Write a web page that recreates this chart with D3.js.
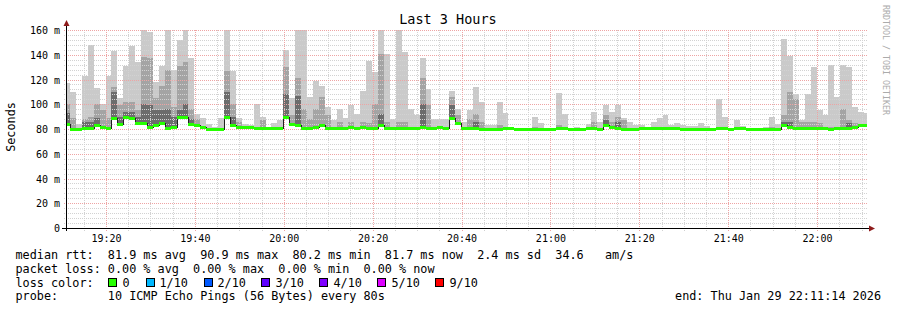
<!DOCTYPE html>
<html><head><meta charset="utf-8">
<script src="https://cdn.jsdelivr.net/npm/d3@7"></script>
<style>
body{margin:0;background:#fff}
svg{display:block}
text{font-family:"DejaVu Sans Mono",monospace;white-space:pre}
</style>
</head><body><svg id="c" width="897" height="310"></svg>
<script>
// ---------- data ----------
const chartTitle = "Last 3 Hours";
const yAxisTitle = "Seconds";
const watermark = "RRDTOOL / TOBI OETIKER";
const stepSeconds = 80;
const firstBarStart = new Date(2026, 0, 29, 19, 10, 34);
const viewStart = new Date(2026, 0, 29, 19, 11, 14);
const viewEnd = new Date(2026, 0, 29, 22, 11, 14);

// outer smoke (max ping), ms
const smokeMax = [117,110,84,123,148,113,100,122.5,143,105,131,147,134,160,158,118,131,160,128,152,
160,137,92,89,84,82,89,160,127,89,84,83,100,90,82,85,87,144,105,160,
160,106,119,115,98,87,96,89,99,92,111,135,126,160,141,88,160,142,96,91,
137,112,88,88,88,111,96,86,95,114,102,83,83,102,93,82,81,81,81,90,
85,81,81,109,92,81,82,81,84,94,86,99,94,99,89,86,83,83,82,85.5,
89,91,83,84.5,83.5,82.8,82.8,84.5,82.8,81,104,90,81,87.6,82.8,81,81,81,82,89.5,
84,152.7,139,108,87,108,130,95,91,131.5,106,132,130,98,93.6,93];
// inner smoke (2nd highest ping), ms; 0 = none
const smokeMid = [100,89,0,88,90,100,95,89,114,99,102,102,95,138,137,105,115,128,98,131,
134,96,88,0,0,0,0,127,100,86,0,0,0,87,0,0,0,130,91,121,
96,88,96,106,91,0,86,0,86,0,86,85,100,141,86,0,86,86,0,0,
121,99,0,0,0,106,91,0,88,92,86,0,0,83,0,0,0,0,0,82,
0,0,0,83,0,0,0,0,82,86,0,91,86,90,87,0,0,0,0,0,
0,0,0,0,0,0,0,0,0,0,0,0,0,0,0,0,0,0,0,82,
0,91.7,110,104.4,86,86,86,85,0,82,0,96,87.6,85,84,84];
// core smoke (3rd highest ping), ms; 0 = none
const smokeCore = [93,0,0,86,86,89,0,0,110,90,94,94,90,100,99,95,95,96,90,95,
100,88,0,0,0,0,0,110,90,0,0,0,0,0,0,0,0,108,0,107,
0,0,0,0,0,0,0,0,0,0,0,0,0,92,0,0,0,0,0,0,
100,0,0,0,0,99,0,0,0,86,0,0,0,0,0,0,0,0,0,0,
0,0,0,0,0,0,0,0,0,0,0,87,0,86,0,0,0,0,0,0,
0,0,0,0,0,0,0,0,0,0,0,0,0,0,0,0,0,0,0,0,
0,86,86,0,0,0,0,0,0,0,0,0,85,0,0,0];
// median rtt, ms
const medianRtt = [84,80,80,81,81,83.5,81.5,81,89,84,90,89,85,85,82,83,85,81,82,90,
90,84,83,82,80,80,80,90,83,82,82,82,81,81,81,81,81,90,84,83,
81,81,82,83,81,81,81,81,82,81,82,81,81,83,81,81,81,81,81,81,
82,81,81,82,81,89,85,81,81,81,80,80,80,80,81,81,80,80,80,80,
80,80,80,81,81,80,80,80,81,81,80,83,82,81,80,80,80,81,81,81,
81,81,81,81,80,80,80,80,80,80,81,81,80,81,81,80,80,80,80,80,
80,83,82,81,81,81,81,81,81,80,81,81,81,82,83,83];

const yTickValues = [0,20,40,60,80,100,120,140,160];
const yTickLabels = ["0","20 m","40 m","60 m","80 m","100 m","120 m","140 m","160 m"];

const legendLines = [
  "median rtt:  81.9 ms avg  90.9 ms max  80.2 ms min  81.7 ms now  2.4 ms sd  34.6   am/s",
  "packet loss: 0.00 % avg  0.00 % max  0.00 % min  0.00 % now",
  "loss color:",
  "probe:       10 ICMP Echo Pings (56 Bytes) every 80s"
];
const lossLabels = ["0","1/10","2/10","3/10","4/10","5/10","9/10"];
const lossColors = ["#26ff00","#00b8ff","#0059ff","#5e00ff","#7e00ff","#dd00ff","#ff0000"];
const endLabel = "end: Thu Jan 29 22:11:14 2026";

// ---------- layout ----------
const L = 67, R = 867, T = 30, B = 228;
const svg = d3.select("#c");
const x = d3.scaleTime().domain([viewStart, viewEnd]).range([L, R]);
const y = d3.scaleLinear().domain([0, 160]).range([B, T]);

svg.append("defs").append("clipPath").attr("id","plot")
  .append("rect").attr("x",L).attr("y",T).attr("width",R-L).attr("height",B-T);

const bars = medianRtt.map((m,i)=>{
  const t0 = new Date(firstBarStart.getTime() + i*stepSeconds*1000);
  const t1 = new Date(t0.getTime() + stepSeconds*1000);
  return {t0,t1,m,max:smokeMax[i],mid:smokeMid[i],core:smokeCore[i]};
});

const g = svg.append("g").attr("clip-path","url(#plot)");
function band(key, fill, lowOff){
  g.selectAll(null).data(bars.filter(d=>d[key]>0)).enter().append("rect")
    .attr("x",d=>x(d.t0)).attr("width",d=>x(d.t1)-x(d.t0))
    .attr("y",d=>y(Math.min(d[key],162)))
    .attr("height",d=>Math.max(0,y(d.m-lowOff)-y(Math.min(d[key],162))))
    .attr("fill",fill).attr("shape-rendering","crispEdges");
}
band("max","#cacaca",1.4);
band("mid","#a4a4a4",0.9);
band("core","#6c6c6c",0.4);

// grid (drawn over smoke, like rrdtool)
const grid = svg.append("g");
const yMinor = d3.range(0,161,4).filter(v=>v%20!==0);
grid.selectAll(null).data(yMinor).enter().append("line")
  .attr("x1",L-3).attr("x2",R).attr("y1",d=>Math.round(y(d))+0.5).attr("y2",d=>Math.round(y(d))+0.5)
  .attr("stroke","#d2d2d2").attr("stroke-dasharray","1,1").attr("stroke-width",1);
const xMinor = x.ticks(d3.timeMinute.every(5)).filter(d=>d.getMinutes()%20!==0);
grid.selectAll(null).data(xMinor).enter().append("line")
  .attr("y1",T).attr("y2",B+3).attr("x1",d=>Math.round(x(d))+0.5).attr("x2",d=>Math.round(x(d))+0.5)
  .attr("stroke","#d2d2d2").attr("stroke-dasharray","1,1").attr("stroke-width",1);
grid.selectAll(null).data(yTickValues.slice(1)).enter().append("line")
  .attr("x1",L-3).attr("x2",R).attr("y1",d=>Math.round(y(d))+0.5).attr("y2",d=>Math.round(y(d))+0.5)
  .attr("stroke","#eea4a4").attr("stroke-dasharray","1,1").attr("stroke-width",1);
const xMajor = x.ticks(d3.timeMinute.every(20));
grid.selectAll(null).data(xMajor).enter().append("line")
  .attr("y1",T).attr("y2",B+3).attr("x1",d=>Math.round(x(d))+0.5).attr("x2",d=>Math.round(x(d))+0.5)
  .attr("stroke","#eea4a4").attr("stroke-dasharray","1,1").attr("stroke-width",1);

// median: dark step line (visible at jumps) + loss-colored band
const g2 = svg.append("g").attr("clip-path","url(#plot)");
const pts = bars.map(d=>[d.t0,d.m]).concat([[bars[bars.length-1].t1, bars[bars.length-1].m]]);
g2.append("path").attr("d", d3.line().x(d=>Math.round(x(d[0]))+0.5).y(d=>Math.round(y(d[1]))+0.5).curve(d3.curveStepAfter)(pts))
  .attr("fill","none").attr("stroke","#202020").attr("stroke-width",1).attr("shape-rendering","crispEdges");
g2.selectAll(null).data(bars).enter().append("rect")
  .attr("x",d=>x(d.t0)).attr("width",d=>x(d.t1)-x(d.t0))
  .attr("y",d=>Math.round(y(d.m))-1).attr("height",3)
  .attr("fill",lossColors[0]).attr("shape-rendering","crispEdges");

// axes
const ax = svg.append("g");
ax.append("line").attr("x1",62).attr("x2",870).attr("y1",B+0.5).attr("y2",B+0.5).attr("stroke","#000");
ax.append("line").attr("x1",L-0.5).attr("x2",L-0.5).attr("y1",B+3).attr("y2",25).attr("stroke","#000");
ax.append("path").attr("d",`M${869},${B-2.5}L${875},${B+0.5}L${869},${B+3.5}Z`).attr("fill","#8e1b1b");
ax.append("path").attr("d",`M${L-3.5},${26}L${L-0.5},${20}L${L+2.5},${26}Z`).attr("fill","#8e1b1b");

// x tick labels via d3 axis
const xAxis = d3.axisBottom(x).tickValues(xMajor).tickFormat(d3.timeFormat("%H:%M")).tickSize(0).tickPadding(0);
const xa = svg.append("g").attr("transform",`translate(0,${B})`).call(xAxis);
xa.select(".domain").remove();
xa.selectAll("text").attr("font-family","DejaVu Sans Mono").attr("font-size","10px").attr("fill","#000")
  .attr("dy",null).attr("y",14);

// y tick labels via d3 axis
const yAxis = d3.axisLeft(y).tickValues(yTickValues).tickFormat((d,i)=>yTickLabels[i]).tickSize(0).tickPadding(0);
const ya = svg.append("g").attr("transform",`translate(60,0)`).call(yAxis);
ya.select(".domain").remove();
ya.selectAll("text").attr("font-family","DejaVu Sans Mono").attr("font-size","10px").attr("fill","#000")
  .attr("dy","0.35em").attr("x",0);

// titles
svg.append("text").attr("x",448).attr("y",23.5).attr("text-anchor","middle")
  .attr("font-size","13.5px").attr("fill","#000").text(chartTitle);
svg.append("text").attr("transform","translate(15,127) rotate(-90)").attr("text-anchor","middle")
  .attr("font-size","11.8px").attr("fill","#000").text(yAxisTitle);
svg.append("text").attr("transform","translate(883,5) rotate(90)").attr("text-anchor","start")
  .attr("font-size","8.3px").attr("fill","#ababab").text(watermark);

// legend
const baselines = [258.5, 272.5, 286.5, 300.3];
legendLines.forEach((s,i)=>{
  svg.append("text").attr("x",15.5).attr("y",baselines[i]).attr("font-size","11.8px").attr("fill","#000").text(s);
});
const boxX = [108,146,203.5,261,319,377,435];
const labX = [122.5,159.5,217.5,275.5,333.5,391.5,449.5];
lossLabels.forEach((s,i)=>{
  svg.append("rect").attr("x",boxX[i]+0.5).attr("y",278.5).attr("width",8).attr("height",8)
    .attr("fill",lossColors[i]).attr("stroke","#000").attr("stroke-width",1).attr("shape-rendering","crispEdges");
  svg.append("text").attr("x",labX[i]).attr("y",baselines[2]).attr("font-size","11.8px").attr("fill","#000").text(s);
});
svg.append("text").attr("x",881).attr("y",baselines[3]).attr("text-anchor","end")
  .attr("font-size","11.8px").attr("fill","#000").text(endLabel);
</script>
</body></html>
